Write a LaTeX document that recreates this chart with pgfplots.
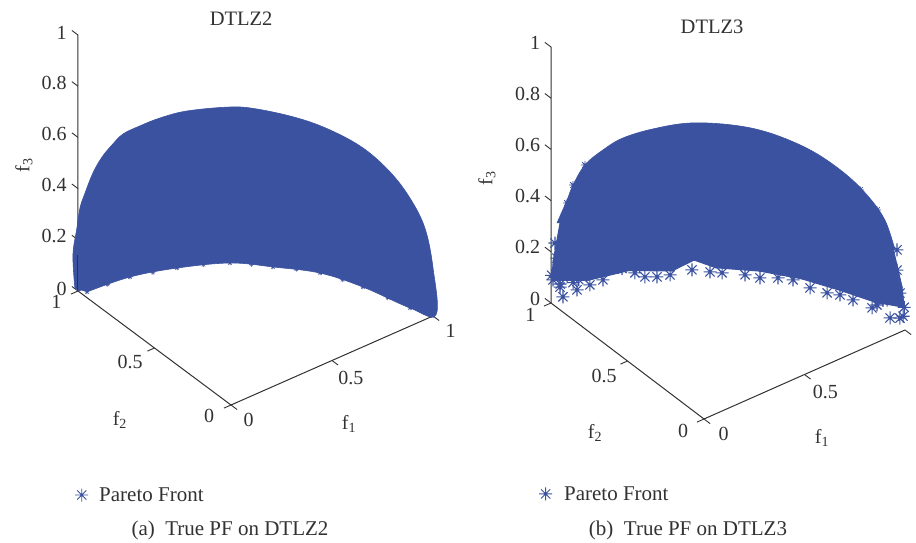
\documentclass[border=0pt]{standalone}
\usepackage{pgfplots}
\pgfplotsset{compat=1.18}
\usepackage{fontspec}
\setmainfont{Liberation Serif}
\definecolor{pb}{RGB}{59,82,160}
\definecolor{ax}{RGB}{50,50,50}
\newcommand{\fs}{\fontsize{20}{24}\selectfont}
\newcommand{\fl}{\fontsize{21}{25}\selectfont}
\pgfdeclareplotmark{ast8}{%
  \pgfpathmoveto{\pgfqpoint{-\pgfplotmarksize}{0pt}}\pgfpathlineto{\pgfqpoint{\pgfplotmarksize}{0pt}}%
  \pgfpathmoveto{\pgfqpoint{0pt}{-\pgfplotmarksize}}\pgfpathlineto{\pgfqpoint{0pt}{\pgfplotmarksize}}%
  \pgfpathmoveto{\pgfqpoint{-0.707\pgfplotmarksize}{-0.707\pgfplotmarksize}}\pgfpathlineto{\pgfqpoint{0.707\pgfplotmarksize}{0.707\pgfplotmarksize}}%
  \pgfpathmoveto{\pgfqpoint{-0.707\pgfplotmarksize}{0.707\pgfplotmarksize}}\pgfpathlineto{\pgfqpoint{0.707\pgfplotmarksize}{-0.707\pgfplotmarksize}}%
  \pgfusepathqstroke}
\pgfplotsset{pf/.style={
  clip=false, xmin=0,xmax=1,ymin=0,ymax=1,zmin=0,zmax=1,
  anchor=origin,
  axis line style={draw=none},
  xtick={0,0.5,1}, ytick={0,0.5,1}, ztick={0,0.2,0.4,0.6,0.8,1},
  yticklabels={0,0.5,1}, zticklabels={0,0.2,0.4,0.6,0.8,1},
  tick align=outside, major tick length=6pt,
  tick style={draw=none},
  tick label style={font=\fs,text=ax},
  label style={font=\fs,text=ax},
  title style={font=\fontsize{20.5}{24}\selectfont,text=ax,anchor=center},
  colormap={pbm}{color=(pb) color=(pb)},
  legend style={draw=none,fill=none,font=\fl,text=ax,anchor=west,legend cell align=left},
  legend image post style={mark size=6.5pt,mark options={line width=0.9pt}},
  surfstyle/.style={surf,shader=faceted,faceted color=pb,line width=1pt,forget plot},
  outl/.style={draw=pb,fill=pb,line width=0.6pt,no marks,forget plot,smooth,tension=0.6},
}}
\newcommand{\axlines}{%
\draw[ax,line width=1pt] (axis cs:1,0,0) -- (axis cs:0,0,0) -- (axis cs:0,1,0) -- (axis cs:0,1,1);
\draw[ax,line width=0.9pt] (axis cs:0,0,0)--(axis cs:0,-0.04,0) (axis cs:0.5,0,0)--(axis cs:0.5,-0.04,0) (axis cs:1,0,0)--(axis cs:1,-0.04,0);
\draw[ax,line width=0.9pt] (axis cs:0,0,0)--(axis cs:-0.035,0,0) (axis cs:0,0.5,0)--(axis cs:-0.035,0.5,0) (axis cs:0,1,0)--(axis cs:-0.035,1,0);
\draw[ax,line width=0.9pt] (axis cs:0,1,0)--(axis cs:0,1.04,0) (axis cs:0,1,0.2)--(axis cs:0,1.04,0.2) (axis cs:0,1,0.4)--(axis cs:0,1.04,0.4) (axis cs:0,1,0.6)--(axis cs:0,1.04,0.6) (axis cs:0,1,0.8)--(axis cs:0,1.04,0.8) (axis cs:0,1,1)--(axis cs:0,1.04,1);
}
\begin{document}
\begin{tikzpicture}[x=1pt,y=1pt]
\useasboundingbox (0,0) rectangle (916,543);
\fill[white] (0,0) rectangle (916,543);
\begin{axis}[pf, at={(231pt,138pt)},
  x={(202pt,89pt)}, y={(-153pt,114pt)}, z={(0pt,256pt)},
  xticklabels={0,0.5,1},
  xticklabel style={xshift=7pt},
  yticklabel style={xshift=-9pt,yshift=3pt},
  zticklabel style={xshift=-3pt,yshift=-2pt},
  title={DTLZ2}, title style={at={(axis cs:0.05,0,1.467)}},
  xlabel={f\textsubscript{1}}, xlabel style={at={(axis cs:0.584,0,-0.277)},anchor=center},
  ylabel={f\textsubscript{2}}, ylabel style={at={(axis cs:-0.55,0,0.132)},anchor=center,rotate=0},
  zlabel={f\textsubscript{3}}, zlabel style={at={(axis cs:-1.025,0,1.294)},anchor=center,rotate=0},
  legend style={at={(axis cs:-0.787,0,-0.078)}},
]
\axlines
\addplot3[surfstyle] table {
1 0 0
.985 .174 0
.94 .342 0
.866 .5 0
.766 .643 0
.643 .766 0
.5 .866 0
.342 .94 0
.174 .985 0
0 1 0

.94 0 .342
.925 .163 .342
.883 .321 .342
.814 .47 .342
.72 .604 .342
.604 .72 .342
.47 .814 .342
.321 .883 .342
.163 .925 .342
0 .94 .342

.766 0 .643
.754 .133 .643
.72 .262 .643
.663 .383 .643
.587 .492 .643
.492 .587 .643
.383 .663 .643
.262 .72 .643
.133 .754 .643
0 .766 .643

.5 0 .866
.492 .087 .866
.47 .171 .866
.433 .25 .866
.383 .321 .866
.321 .383 .866
.25 .433 .866
.171 .47 .866
.087 .492 .866
0 .5 .866
};
\addplot3[outl] coordinates {
(0,1.02,0)(0,1.033,.126)(0,1.007,.243)(0,.987,.33)(0,.954,.403)(0,.902,.505)(0,.843,.593)(0,.778,.669)(0,.706,.744)
(.018,.618,.809)(.08,.569,.84)(.164,.504,.867)(.297,.399,.883)(.381,.334,.875)(.506,.237,.84)(.609,.156,.793)(.711,.076,.723)
(.787,0,.637)(.886,0,.5)(.96,0,.357)(1,0,.188)(1.015,0,0)
(.962,.1,0)(.903,.33,0)(.828,.511,0)(.707,.659,0)(.59,.785,0)(.404,.886,0)(.22,.951,0)(.024,.973,0)
};
\addplot3[only marks,mark=ast8,mark size=2.4pt,color=pb,mark options={line width=0.5pt}] coordinates {
(1,0,0)(.962,.1,0)(.935,.21,0)(.903,.33,0)(.87,.42,0)(.828,.511,0)(.77,.59,0)(.707,.659,0)(.65,.725,0)(.59,.785,0)(.5,.84,0)(.404,.886,0)(.31,.92,0)(.22,.951,0)(.12,.965,0)(.024,.973,0)
(.985,0,.174)(.94,0,.342)(.866,0,.5)(.766,0,.643)(.643,0,.766)
(0,.985,.174)(0,.94,.342)(0,.866,.5)(0,.766,.643)(0,.643,.766)
(.587,.492,.643)(.492,.587,.643)(.383,.321,.866)(.321,.383,.866)
};
\addlegendentry{\hspace*{9pt}Pareto Front}
\draw[ax,line width=1pt] (axis cs:0,1,0) -- (axis cs:0,1,0.14);
\end{axis}

\begin{axis}[pf, at={(704pt,124pt)},
  x={(201pt,89pt)}, y={(-153pt,116pt)}, z={(0pt,256pt)},
  xticklabels={0,0.5,{}},
  xticklabel style={xshift=9pt},
  yticklabel style={xshift=-8pt,yshift=2pt},
  zticklabel style={xshift=-2.5pt,yshift=-1pt},
  title={DTLZ3}, title style={at={(axis cs:0.04,0,1.494)}},
  xlabel={f\textsubscript{1}}, xlabel style={at={(axis cs:0.587,0,-0.278)},anchor=center},
  ylabel={f\textsubscript{2}}, ylabel style={at={(axis cs:-0.542,0,0.134)},anchor=center,rotate=0},
  zlabel={f\textsubscript{3}}, zlabel style={at={(axis cs:-1.08,0,1.316)},anchor=center,rotate=0},
  legend style={at={(axis cs:-0.836,0,-0.002)}},
]
\axlines
\addplot3[surfstyle] table {
.996 0 .09
.985 .173 .035
.94 .342 .02
.866 .5 .02
.766 .643 .02
.643 .766 .02
.574 .819 .05
.5 .866 .012
.342 .94 .035
.174 .985 .035
0 .996 .09

.985 0 .174
.97 .171 .174
.926 .337 .174
.853 .492 .174
.755 .633 .174
.633 .755 .174
.565 .807 .174
.492 .853 .174
.337 .926 .174
.171 .97 .174
0 .985 .174

.94 0 .342
.925 .163 .342
.883 .321 .342
.814 .47 .342
.72 .604 .342
.604 .72 .342
.54 .77 .342
.47 .814 .342
.321 .883 .342
.163 .925 .342
0 .94 .342
};
\addplot3[outl] coordinates {
(0,.961,.33)(0,.895,.45)(0,.856,.526)(0,.778,.64)(0,.66,.752)(.056,.603,.805)(.151,.531,.84)(.267,.442,.863)(.402,.338,.855)(.518,.249,.824)(.644,.153,.758)(.747,.073,.672)(.811,0,.593)(.9,0,.464)(.95,0,.33)
};
\addplot3[only marks,mark=ast8,mark size=6.5pt,color=pb,mark options={line width=1.1pt}] table {
.98 .007 .05
.998 .01 .05
.982 .074 .02
.967 .172 .02
.94 .261 .02
.92 .32 .02
.888 .362 .02
.855 .43 .02
.835 .515 .02
.796 .562 .02
.739 .605 .02
.705 .658 .02
.641 .724 .02
.607 .758 .02
.559 .813 .02
.469 .838 .02
.42 .859 .02
.382 .888 .02
.367 .934 .02
.281 .905 .08
.238 .973 .02
.176 .977 .02
.115 .981 .02
.042 .977 .02
0 .987 .096
.02 .948 .118
0 .961 .193
0 .974 .246
.09 .974 .06
.117 .945 .1
.041 .995 .05
.975 0 .153
.96 0 .248
.96 0 .327
.983 .095 .08
.952 .12 .06
.99 .131 .06
.975 .216 .065
.953 .301 .055
.923 .383 .06
.886 .462 .05
.842 .537 .04
.792 .609 .055
.736 .676 .045
.675 .737 .05
.608 .793 .06
.461 .887 .05
.383 .923 .045
.301 .954 .055
.216 .976 .06
.131 .991 .05
.044 .998 .06
.996 0 .09
.981 .173 .07
.962 .258 .09
.936 .341 .06
0 .996 .11
};
\addlegendentry{\hspace*{10pt}Pareto Front}
\addplot3[only marks,mark=ast8,mark size=4pt,color=pb,mark options={line width=0.8pt},forget plot] table {
0 .895 .438
0 .856 .526
0 .778 .64
.861 0 .517
.776 0 .625
};
\end{axis}
\node[font=\fl,text=ax] at (230,12.5) {(a)\ \ True PF on DTLZ2};
\node[font=\fl,text=ax] at (688,12.5) {(b)\ \ True PF on DTLZ3};
\end{tikzpicture}
\end{document}
